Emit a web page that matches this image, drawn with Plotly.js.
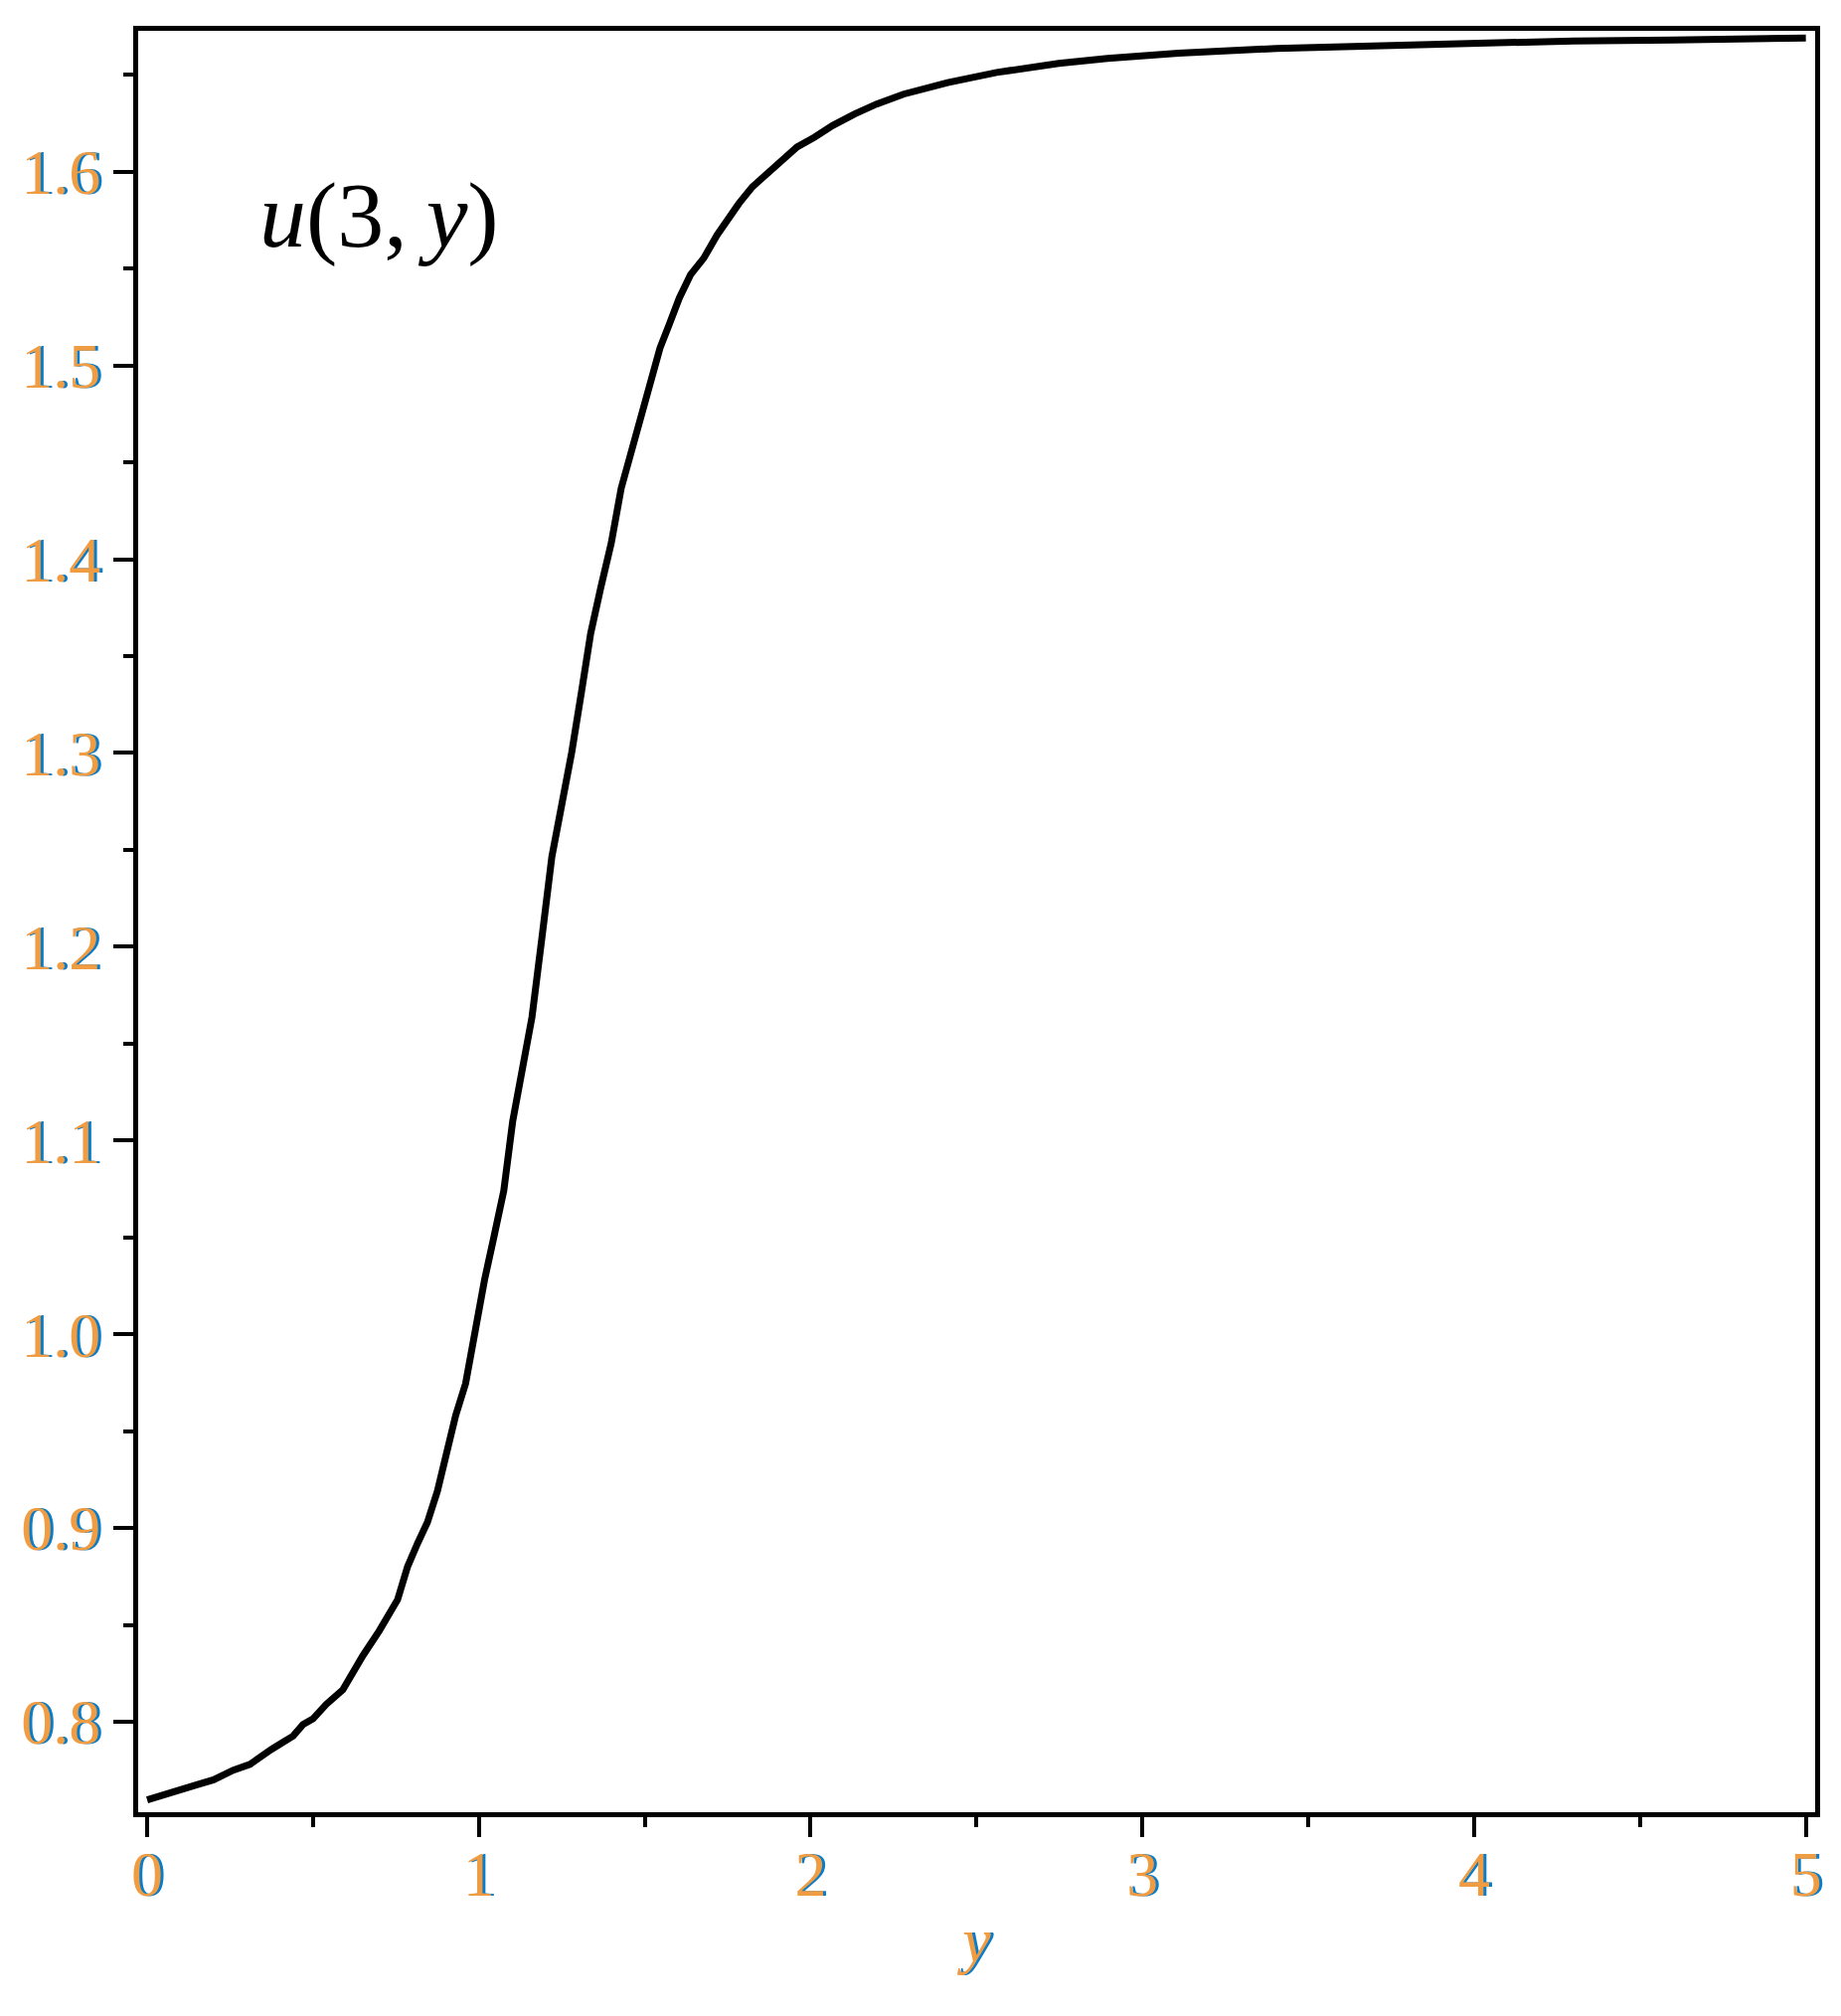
<!DOCTYPE html>
<html>
<head>
<meta charset="utf-8">
<script src="https://cdn.plot.ly/plotly-3.0.1.min.js"></script>
<style>
  html, body { margin: 0; padding: 0; background: #fff; }
  #chart { width: 1852px; height: 2028px; }
</style>
</head>
<body>
<div id="chart"></div>
<script>
const yPos = [
    0, 0.05, 0.1, 0.15, 0.2, 0.26, 0.31, 0.34, 0.375, 0.41, 0.44, 0.47, 0.5,
    0.54, 0.59, 0.65, 0.7, 0.755, 0.785, 0.815, 0.845, 0.875, 0.903, 0.93,
    0.96, 0.989, 1.017, 1.045, 1.075, 1.102, 1.13, 1.16, 1.19, 1.22, 1.25,
    1.28, 1.31, 1.337, 1.367, 1.399, 1.429, 1.459, 1.489, 1.516, 1.546,
    1.574, 1.604, 1.638, 1.678, 1.718, 1.745, 1.784, 1.824, 1.865, 1.905,
    1.959, 2.012, 2.066, 2.133, 2.199, 2.28, 2.413, 2.561, 2.748, 2.895,
    3.109, 3.404, 3.7, 4.0, 4.3, 4.6, 5.0
];
const uVals = [
    0.7596, 0.7625, 0.765, 0.7675, 0.770, 0.775, 0.778, 0.7818, 0.7858,
    0.7895, 0.7926, 0.7986, 0.8015, 0.809, 0.8165, 0.834, 0.847, 0.863,
    0.880, 0.892, 0.903, 0.919, 0.940, 0.958, 0.9746, 1.003, 1.028, 1.050,
    1.074, 1.110, 1.137, 1.1636, 1.2046, 1.2464, 1.2734, 1.3004, 1.3323,
    1.3617, 1.385, 1.4083, 1.4366, 1.4549, 1.4721, 1.4917, 1.509, 1.5212,
    1.5347, 1.5468, 1.5554, 1.5673, 1.5742, 1.5836, 1.5921, 1.5981, 1.6050,
    1.6127, 1.6178, 1.6238, 1.6298, 1.6349, 1.6400, 1.6460, 1.6512, 1.6559,
    1.6585, 1.6611, 1.6636, 1.665, 1.6665, 1.6675, 1.668, 1.669
];
const xTicks = [0, 1, 2, 3, 4, 5];
const yTicks = [0.8, 0.9, 1.0, 1.1, 1.2, 1.3, 1.4, 1.5, 1.6];

const serif = 'Liberation Serif, Times New Roman, serif';
// tick labels in the picture have orange/blue colour fringes
const tickFont = {family: serif, size: 64, color: '#ef9c42',
                  shadow: '3px 0px 0px #0a7cc8'};

const curve = {
    x: yPos,
    y: uVals,
    mode: 'lines',
    line: {color: '#000000', width: 7},
    hoverinfo: 'x+y'
};

const axisCommon = {
    showline: true,
    linecolor: '#000',
    linewidth: 5,
    mirror: true,
    showgrid: false,
    zeroline: false,
    ticks: 'outside',
    ticklen: 20,
    tickwidth: 4,
    tickcolor: '#000',
    tickfont: tickFont,
    fixedrange: true
};

const layout = {
    width: 1852,
    height: 2028,
    paper_bgcolor: '#fff',
    plot_bgcolor: '#fff',
    showlegend: false,
    margin: {l: 139, r: 26, t: 31, b: 205},
    xaxis: Object.assign({}, axisCommon, {
        range: [-0.027, 5.028],
        tickvals: xTicks,
        ticktext: xTicks.map(String),
        ticklabelstandoff: -18,
        minor: {dtick: 0.5, tick0: 0, ticks: 'outside', ticklen: 10,
                tickwidth: 4, tickcolor: '#000'},
        title: {
            text: '<i>y</i>',
            font: {family: serif, size: 64, color: '#ef9c42',
                   shadow: '3px 0px 0px #0a7cc8'},
            standoff: 10
        }
    }),
    yaxis: Object.assign({}, axisCommon, {
        range: [0.7533, 1.6727],
        tickvals: yTicks,
        ticktext: yTicks.map(v => v.toFixed(1)),
        ticklabelstandoff: 0,
        minor: {dtick: 0.05, tick0: 0, ticks: 'outside', ticklen: 10,
                tickwidth: 4, tickcolor: '#000'}
    }),
    annotations: [{
        xref: 'paper', yref: 'paper',
        x: 0.071, y: 0.897,
        xanchor: 'left', yanchor: 'middle',
        text: '<i>u</i>(3,\u2009<i>y</i>)',
        showarrow: false,
        font: {family: serif, size: 94, color: '#000'}
    }]
};

Plotly.newPlot('chart', [curve], layout, {displayModeBar: false, staticPlot: true});
</script>
</body>
</html>
